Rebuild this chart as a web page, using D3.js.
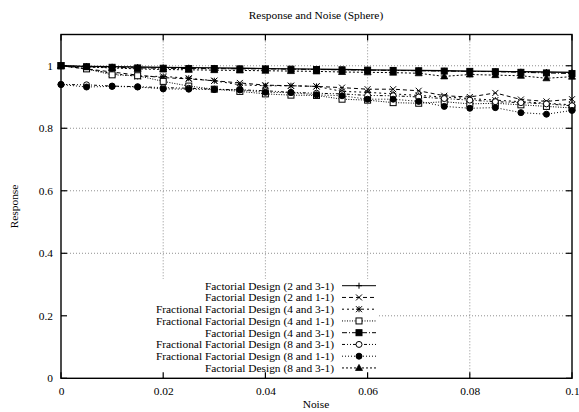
<!DOCTYPE html>
<html><head><meta charset="utf-8">
<script src="https://cdn.jsdelivr.net/npm/d3@7"></script>
<style>body{margin:0;background:#fff}svg{display:block}text{font-family:"Liberation Serif","Times New Roman",serif;fill:#000}</style>
</head><body><svg id="c" width="579" height="412"></svg>
<script>
const noise = [0,0.005,0.01,0.015,0.02,0.025,0.03,0.035,0.04,0.045,0.05,0.055,0.06,0.065,0.07,0.075,0.08,0.085,0.09,0.095,0.1];
const seriesNames = [
  "Factorial Design (2 and 3-1)",
  "Factorial Design (2 and 1-1)",
  "Fractional Factorial Design (4 and 3-1)",
  "Fractional Factorial Design (4 and 1-1)",
  "Factorial Design (4 and 3-1)",
  "Fractional Factorial Design (8 and 3-1)",
  "Fractional Factorial Design (8 and 1-1)",
  "Factorial Design (8 and 3-1)"
];
const s1 = [1,0.998,0.997,0.996,0.995,0.994,0.993,0.992,0.991,0.99,0.989,0.988,0.987,0.986,0.985,0.984,0.983,0.982,0.981,0.98,0.979];
const s2 = [1,0.99,0.98,0.97,0.962,0.958,0.952,0.945,0.938,0.936,0.934,0.93,0.925,0.925,0.92,0.904,0.9,0.913,0.892,0.886,0.893];
const s3 = [1,0.99,0.975,0.966,0.966,0.96,0.952,0.939,0.936,0.936,0.934,0.918,0.915,0.91,0.905,0.9,0.895,0.89,0.885,0.88,0.875];
const s4 = [1,0.99,0.971,0.968,0.95,0.935,0.925,0.918,0.91,0.906,0.905,0.893,0.89,0.882,0.88,0.885,0.878,0.88,0.875,0.87,0.865];
const s5 = [1,0.997,0.995,0.993,0.992,0.991,0.991,0.99,0.99,0.989,0.988,0.987,0.986,0.985,0.984,0.983,0.982,0.981,0.979,0.977,0.975];
const s6 = [0.94,0.939,0.935,0.933,0.93,0.928,0.925,0.923,0.92,0.915,0.912,0.91,0.905,0.904,0.9,0.895,0.89,0.885,0.882,0.878,0.872];
const s7 = [0.94,0.932,0.934,0.932,0.926,0.925,0.924,0.923,0.915,0.914,0.907,0.904,0.893,0.893,0.886,0.87,0.864,0.866,0.85,0.845,0.857];
const s8 = [1,0.996,0.993,0.99,0.988,0.987,0.986,0.985,0.984,0.983,0.982,0.98,0.979,0.978,0.976,0.966,0.972,0.97,0.968,0.96,0.965];
const xTicks = [0,0.02,0.04,0.06,0.08,0.1];
const yTicks = [0,0.2,0.4,0.6,0.8,1];
const allSeries = [s1,s2,s3,s4,s5,s6,s7,s8];
const dashes = ["none","4,3","2,3","1,1.5","5,2,1,2","3,2,1,2,1,2","1,2","2,2,2,2"];
const markers = ["plus","cross","star","sq","fsq","circ","fcirc","tri"];

const svg = d3.select("#c");
const L=61,R=572,T=34.5,B=378.3;
const FS = "11.4px";
const x = d3.scaleLinear().domain([0,0.1]).range([L,R]);
const y = d3.scaleLinear().domain([0,1.1]).range([B,T]);

// grid
const grid = svg.append("g").attr("stroke","#444").attr("stroke-width",0.6).attr("stroke-dasharray","1,2");
grid.selectAll(".gx").data(xTicks.filter(d=>d>0&&d<0.1)).join("line")
  .attr("x1",d=>x(d)).attr("x2",d=>x(d)).attr("y1",B).attr("y2",T);
grid.selectAll(".gy").data(yTicks.filter(d=>d>0)).join("line")
  .attr("x1",L).attr("x2",R).attr("y1",d=>y(d)).attr("y2",d=>y(d));

// legend background
const legX = 334, legY0 = 285.7, legDy = 11.75;
svg.append("rect").attr("x",62).attr("y",279).attr("width",316).attr("height",98).attr("fill","#fff");

// axes
const ax = svg.append("g").attr("transform",`translate(0,${B})`).call(d3.axisBottom(x).tickValues(xTicks).tickSize(0).tickPadding(9).tickFormat(d=>d===0?"0":d3.format("")(+d.toFixed(2))));
const ay = svg.append("g").attr("transform",`translate(${L},0)`).call(d3.axisLeft(y).tickValues(yTicks).tickSize(0).tickPadding(8).tickFormat(d=>d===0?"0":d===1?"1":d3.format("")(+d.toFixed(1))));
[ax,ay].forEach(a=>{a.select(".domain").remove();a.selectAll("text").style("font-family",'"Liberation Serif",serif').style("font-size",FS).attr("fill","#000");});

// tick marks inward, mirrored
const tk = svg.append("g").attr("stroke","#000").attr("stroke-width",1.2);
xTicks.forEach(d=>{tk.append("line").attr("x1",x(d)).attr("x2",x(d)).attr("y1",B).attr("y2",B-6);
  tk.append("line").attr("x1",x(d)).attr("x2",x(d)).attr("y1",T).attr("y2",T+6);});
yTicks.forEach(d=>{tk.append("line").attr("x1",L).attr("x2",L+6).attr("y1",y(d)).attr("y2",y(d));
  tk.append("line").attr("x1",R).attr("x2",R-6).attr("y1",y(d)).attr("y2",y(d));});

svg.append("rect").attr("x",L).attr("y",T).attr("width",R-L).attr("height",B-T).attr("fill","none").attr("stroke","#000").attr("stroke-width",1.4);

function drawMarker(g,type,cx,cy){
  const s=3;
  const st={stroke:"#000","stroke-width":1};
  const ln=(x1,y1,x2,y2)=>{const l=g.append("line").attr("x1",x1).attr("y1",y1).attr("x2",x2).attr("y2",y2);for(const k in st)l.attr(k,st[k]);};
  if(type==="plus"){ln(cx-s,cy,cx+s,cy);ln(cx,cy-s,cx,cy+s);}
  else if(type==="cross"){ln(cx-s,cy-s,cx+s,cy+s);ln(cx-s,cy+s,cx+s,cy-s);}
  else if(type==="star"){ln(cx-s,cy,cx+s,cy);ln(cx,cy-s,cx,cy+s);ln(cx-s,cy-s,cx+s,cy+s);ln(cx-s,cy+s,cx+s,cy-s);}
  else if(type==="sq"||type==="fsq"){g.append("rect").attr("x",cx-s).attr("y",cy-s).attr("width",2*s).attr("height",2*s).attr("fill",type==="fsq"?"#000":"#fff").attr("stroke","#000").attr("stroke-width",1);}
  else if(type==="circ"||type==="fcirc"){g.append("circle").attr("cx",cx).attr("cy",cy).attr("r",s).attr("fill",type==="fcirc"?"#000":"#fff").attr("stroke","#000").attr("stroke-width",1);}
  else if(type==="tri"){g.append("path").attr("d",`M${cx},${cy-s-0.5}L${cx+s+0.5},${cy+s-0.5}L${cx-s-0.5},${cy+s-0.5}Z`).attr("fill","#000").attr("stroke","#000").attr("stroke-width",0.8);}
}

const line = d3.line().x((d,i)=>x(noise[i])).y(d=>y(d));
allSeries.forEach((vals,k)=>{
  const g = svg.append("g");
  g.append("path").datum(vals).attr("d",line).attr("fill","none").attr("stroke","#000").attr("stroke-width",k===0?1.3:1).attr("stroke-dasharray",dashes[k]);
  vals.forEach((v,i)=>drawMarker(g,markers[k],x(noise[i]),y(v)));
});

// legend
seriesNames.forEach((name,k)=>{
  const yy = legY0 + k*legDy;
  svg.append("text").attr("x",legX).attr("y",yy+3.8).attr("text-anchor","end").style("font-size",FS).text(name);
  svg.append("line").attr("x1",342).attr("x2",376).attr("y1",yy).attr("y2",yy).attr("stroke","#000").attr("stroke-width",1).attr("stroke-dasharray",dashes[k]);
  drawMarker(svg.append("g"),markers[k],359,yy);
});

svg.append("text").attr("x",316).attr("y",19).attr("text-anchor","middle").style("font-size",FS).text("Response and Noise (Sphere)");
svg.append("text").attr("x",316).attr("y",408).attr("text-anchor","middle").style("font-size",FS).text("Noise");
svg.append("text").attr("transform","translate(18,206.5) rotate(-90)").attr("text-anchor","middle").style("font-size",FS).text("Response");
</script></body></html>
